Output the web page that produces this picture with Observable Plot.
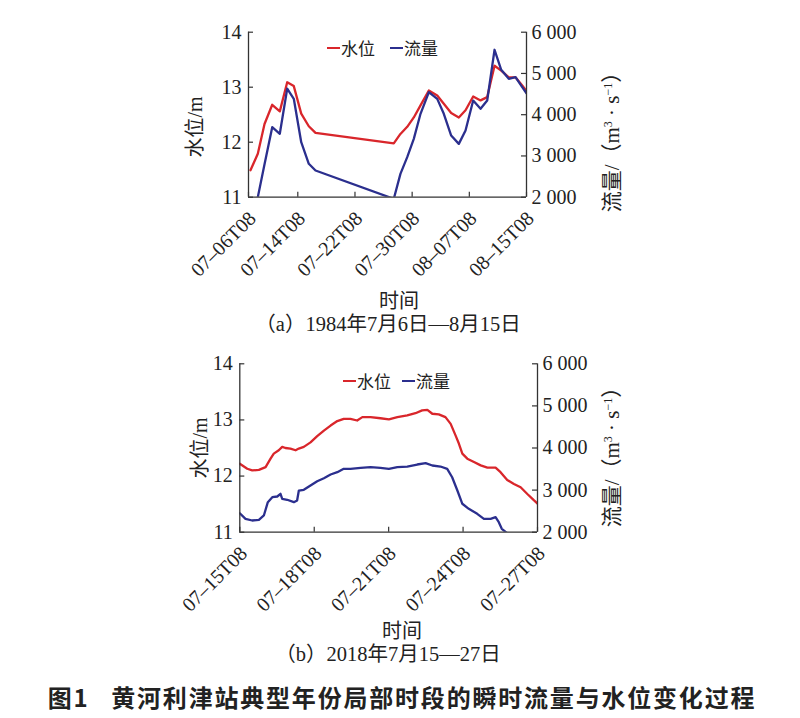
<!DOCTYPE html>
<html><head><meta charset="utf-8">
<script src="https://cdn.jsdelivr.net/npm/d3@7"></script>
<script src="https://cdn.jsdelivr.net/npm/@observablehq/plot@0.6"></script>
<style>
body{margin:0;background:#fff;}
#wrap{position:relative;width:800px;height:718px;overflow:hidden;font-family:"Liberation Serif","Noto Sans CJK SC",serif;color:#222;}
.abs{position:absolute;white-space:nowrap;line-height:1;}
.svgbox{position:absolute;left:0;}
.leg{position:absolute;font-family:"Noto Sans CJK SC",sans-serif;font-size:17px;line-height:1;white-space:nowrap;}
.dash{position:absolute;height:2.4px;}
</style></head><body><div id="wrap"></div>
<script>
// ---------- Panel (a) 1984 ----------
const ticksA = [0, 8, 16, 24, 32, 40];           // days since 07-06T08
const tickLabelsA = ["07–06T08","07–14T08","07–22T08","07–30T08","08–07T08","08–15T08"];
const daysA = [0.32,1.51,2.60,3.85,5.08,6.28,7.35,8.48,9.54,10.48,21.43,22.36,23.31,24.23,25.17,26.33,27.51,28.43,29.46,30.53,31.47,32.54,33.57,34.50,35.53,36.46,37.52,38.46,39.40,40];
const stageA = [11.49,11.79,12.33,12.68,12.56,13.09,13.02,12.52,12.29,12.17,11.98,12.15,12.28,12.45,12.67,12.94,12.85,12.70,12.53,12.45,12.58,12.83,12.76,12.82,13.39,13.30,13.18,13.18,13.03,12.93];
const flowA = [1150,2000,2800,3697,3537,4630,4385,3333,2810,2647,1960,2566,2970,3415,4022,4545,4384,4022,3495,3293,3616,4343,4143,4343,5574,5089,4869,4909,4667,4520];

// ---------- Panel (b) 2018 ----------
const ticksB = [0, 3, 6, 9, 12];                  // days since 07-15T08
const tickLabelsB = ["07–15T08","07–18T08","07–21T08","07–24T08","07–27T08"];
const daysStageB = [0,0.30,0.50,0.77,1.04,1.24,1.37,1.57,1.71,1.84,2.04,2.25,2.38,2.58,2.85,3.12,3.39,3.66,3.93,4.19,4.46,4.73,4.94,5.27,5.67,6.01,6.35,6.75,7.08,7.35,7.56,7.76,8.02,8.29,8.50,8.70,8.83,8.97,9.17,9.44,9.71,9.98,10.31,10.51,10.78,11.05,11.32,11.59,11.85,12.0];
const stageB = [12.22,12.13,12.10,12.11,12.16,12.31,12.40,12.46,12.52,12.50,12.49,12.46,12.49,12.52,12.60,12.71,12.81,12.90,12.98,13.02,13.02,12.99,13.05,13.05,13.03,13.01,13.05,13.08,13.12,13.17,13.18,13.11,13.10,13.05,12.93,12.72,12.58,12.40,12.31,12.25,12.19,12.15,12.15,12.07,11.93,11.86,11.80,11.68,11.57,11.51];
const daysFlowB = [0,0.23,0.50,0.77,0.97,1.13,1.31,1.51,1.64,1.71,1.91,2.18,2.31,2.38,2.58,2.85,3.12,3.39,3.66,3.93,4.19,4.46,4.87,5.27,5.67,6.01,6.35,6.75,7.15,7.49,7.76,8.09,8.36,8.56,8.77,8.97,9.23,9.57,9.84,10.11,10.31,10.44,10.56,10.78,11.05];
const flowB = [2451,2318,2278,2295,2397,2713,2831,2848,2912,2793,2770,2713,2753,2990,3007,3109,3211,3283,3371,3425,3506,3506,3530,3544,3530,3506,3544,3560,3608,3639,3584,3560,3506,3306,2990,2675,2556,2437,2318,2318,2356,2238,2081,1976,1800];

const stageTicks = [11, 12, 13, 14];
const flowTicks = [2000, 3000, 4000, 5000, 6000];

const RED = "#d9262b", BLUE = "#2b2f8e", AX = "#333";
const toStage = q => 11 + (q - 2000) / 4000 * 3;
const fmtFlow = q => d3.format(",")(q).replace(/,/g, " ");

function panel({days, stage, fdays, flow, xDomain, xRange, ticks, labels, height, plotTop, plotBottom}) {
  const W = 800;
  const left = xRange[0], right = xRange[xRange.length - 1];
  const pw = right - left, ph = plotBottom - plotTop;
  const sData = days.map((d, i) => ({x: d, y: stage[i]}));
  const fData = fdays.map((d, i) => ({x: d, y: toStage(flow[i])}));
  const x0 = xDomain[0], x1 = xDomain[xDomain.length - 1];
  return Plot.plot({
    width: W, height,
    marginLeft: left, marginRight: W - right, marginTop: plotTop, marginBottom: height - plotBottom,
    style: {fontFamily: "Liberation Serif, serif", fontSize: "20px", color: "#222", background: "transparent", overflow: "visible"},
    x: {type: "linear", domain: xDomain, range: xRange},
    y: {domain: [11, 14]},
    marks: [
      Plot.line(sData, {x: "x", y: "y", stroke: RED, strokeWidth: 2.3, clip: true}),
      Plot.line(fData, {x: "x", y: "y", stroke: BLUE, strokeWidth: 2.3, clip: true}),
      Plot.ruleX([x0, x1], {stroke: AX, strokeWidth: 1.3}),
      Plot.ruleY([11], {stroke: AX, strokeWidth: 1.3}),
      Plot.tickY(stageTicks, {y: d => d, stroke: AX, strokeWidth: 1.2, insetRight: pw - 5}),
      Plot.tickY(flowTicks.map(toStage), {y: d => d, stroke: AX, strokeWidth: 1.2, insetLeft: pw - 5}),
      Plot.tickX(ticks, {x: d => d, stroke: AX, strokeWidth: 1.2, insetTop: ph - 5}),
      Plot.axisY(stageTicks, {anchor: "left", tickSize: 0, tickPadding: 7, fontSize: 20, label: null,
        tickFormat: d => String(d)}),
      Plot.axisY(flowTicks.map(toStage), {anchor: "right", tickSize: 0, tickPadding: 5, fontSize: 20, label: null,
        tickFormat: d => fmtFlow(Math.round(2000 + (d - 11) / 3 * 4000))}),
      Plot.axisX(ticks, {anchor: "bottom", tickSize: 0, tickPadding: 6, tickRotate: -45, fontSize: 20, label: null,
        dx: 4, dy: 12, tickFormat: d => labels[ticks.indexOf(d)]})
    ]
  });
}

const wrap = document.getElementById("wrap");

const pa = panel({days: daysA, stage: stageA, fdays: daysA, flow: flowA,
  xDomain: [0, 8, 40], xRange: [248, 297.3, 526], ticks: ticksA, labels: tickLabelsA,
  height: 300, plotTop: 31.7, plotBottom: 196.7});
pa.classList.add("svgbox"); pa.style.top = "0px";
wrap.appendChild(pa);

const pb = panel({days: daysStageB, stage: stageB, fdays: daysFlowB, flow: flowB,
  xDomain: [0, 12], xRange: [239.3, 537], ticks: ticksB, labels: tickLabelsB,
  height: 300, plotTop: 23.3, plotBottom: 191.7});
pb.classList.add("svgbox"); pb.style.top = "340px";
wrap.appendChild(pb);

function addText(html, x, y, css, rot) {
  const d = document.createElement("div");
  d.className = "abs";
  d.innerHTML = html;
  d.style.left = x + "px"; d.style.top = y + "px";
  d.style.transform = "translate(-50%,-50%)" + (rot ? ` rotate(${rot}deg)` : "");
  Object.assign(d.style, css || {});
  wrap.appendChild(d);
}
const cjk = {fontFamily: "'Liberation Serif','Noto Sans CJK SC',serif", fontSize: "20px"};

// axis titles
addText("水位/m", 195, 127, cjk, -90);
addText("水位/m", 200, 448, cjk, -90);
const flowTitle = "流量/（m<sup style='font-size:12px;vertical-align:7px'>3</sup> · s<sup style='font-size:12px;vertical-align:7px'>−1</sup>）";
addText(flowTitle, 612, 137, Object.assign({}, cjk, {fontSize: "21px"}), -90);
addText(flowTitle, 612, 452, Object.assign({}, cjk, {fontSize: "21px"}), -90);
addText("时间", 399, 301, cjk);
addText("时间", 402, 631, cjk);
addText("（a）1984年7月6日—8月15日", 388, 324, Object.assign({}, cjk, {fontSize: "20.5px"}));
addText("（b）2018年7月15—27日", 388, 654, Object.assign({}, cjk, {fontSize: "20.5px"}));
addText("图1&nbsp;&nbsp;&nbsp;黄河利津站典型年份局部时段的瞬时流量与水位变化过程", 402, 697,
  {fontFamily: "'Noto Sans CJK SC',sans-serif", fontSize: "24px", fontWeight: "bold", letterSpacing: "1.8px"});

// legends
function legend(items, y) {
  for (const it of items) {
    const dsh = document.createElement("div");
    dsh.className = "dash";
    dsh.style.left = it.x0 + "px"; dsh.style.width = (it.x1 - it.x0) + "px";
    dsh.style.top = (y - 1.2) + "px"; dsh.style.background = it.c;
    wrap.appendChild(dsh);
    const t = document.createElement("div");
    t.className = "leg"; t.textContent = it.t;
    t.style.left = it.x1 + 1 + "px"; t.style.top = (y - 9) + "px";
    wrap.appendChild(t);
  }
}
legend([{x0: 327, x1: 340, c: RED, t: "水位"}, {x0: 390, x1: 403, c: BLUE, t: "流量"}], 48);
legend([{x0: 343, x1: 356, c: RED, t: "水位"}, {x0: 402, x1: 415, c: BLUE, t: "流量"}], 381);
</script></body></html>
